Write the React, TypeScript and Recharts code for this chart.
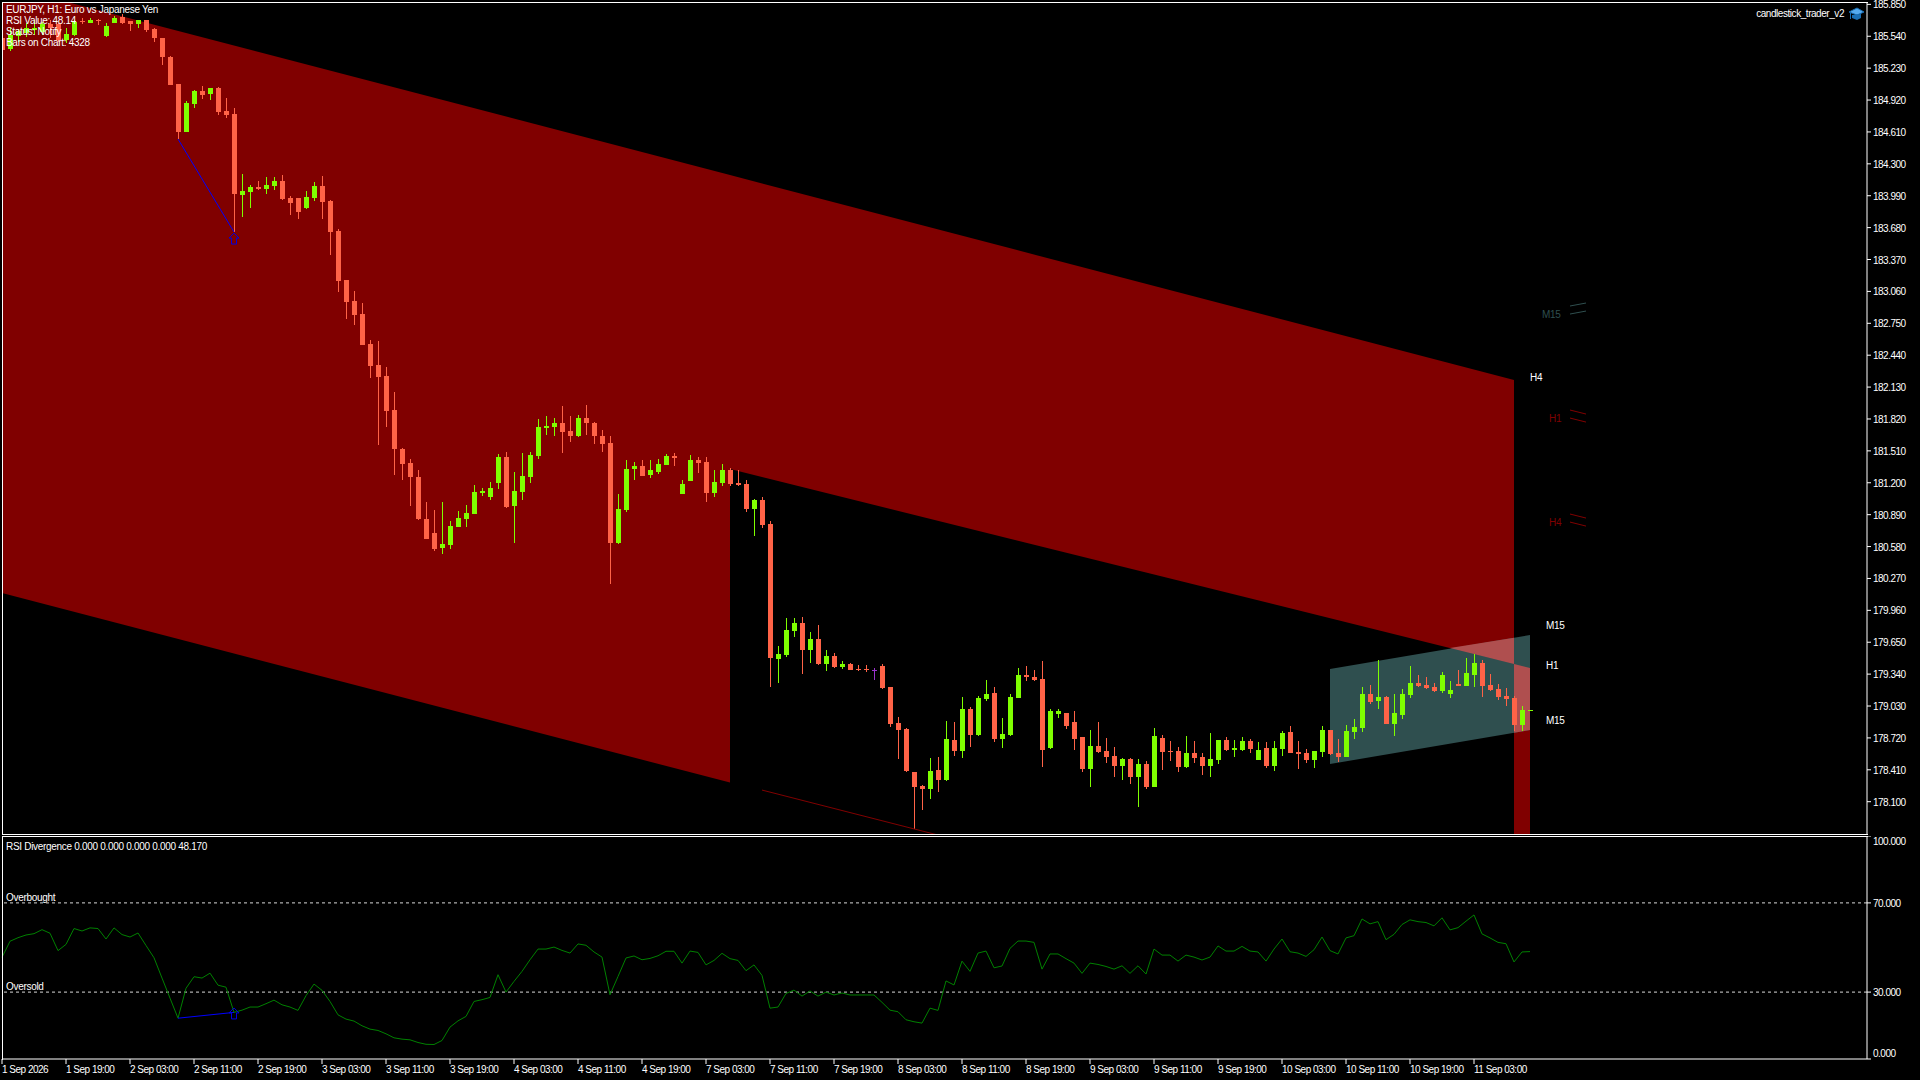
import React from 'react';
import { ComposedChart, Bar, Line, Area, XAxis, YAxis, ReferenceLine } from 'recharts';

const opens = [
  185.523,185.416,185.542,185.571,185.600,185.581,185.659,185.659,185.503,185.552,185.688,185.668,185.698,185.542,185.668,185.727,
  185.688,185.659,185.698,185.610,185.523,185.338,185.076,184.609,184.881,185.007,184.978,185.037,184.813,184.784,183.997,184.026,
  184.074,184.055,184.084,184.133,183.967,183.967,183.870,183.967,184.084,183.938,183.647,183.170,182.966,182.840,182.548,182.344,
  182.237,181.907,181.528,181.392,181.256,180.847,180.711,180.565,180.595,180.770,180.847,180.896,181.100,181.061,181.197,181.450,
  180.974,181.110,181.256,181.460,181.732,181.742,181.780,181.703,181.654,181.829,181.780,181.654,181.586,180.614,180.935,181.333,
  181.363,181.275,181.304,181.372,181.460,181.090,181.217,181.421,181.401,181.100,181.197,181.324,181.197,181.188,180.945,181.032,
  180.799,179.486,179.525,179.759,179.836,179.574,179.681,179.438,179.516,179.409,179.438,179.389,179.389,179.380,179.418,179.214,
  178.864,178.806,178.388,178.252,178.223,178.408,178.310,178.699,178.592,179.001,178.748,179.098,179.156,178.709,178.748,179.108,
  179.331,179.312,179.292,178.621,178.952,178.962,178.874,178.728,178.417,178.641,178.592,178.544,178.447,178.515,178.340,178.466,
  178.242,178.719,178.592,178.592,178.437,178.573,178.534,178.447,178.505,178.699,178.602,178.602,178.690,178.505,178.621,178.447,
  178.612,178.777,178.583,178.573,178.505,178.583,178.796,178.573,178.534,178.777,178.816,179.146,179.078,179.117,178.855,178.942,
  179.137,179.253,179.234,179.214,179.175,179.146,179.244,179.224,179.331,179.448,179.234,179.195,179.127,179.108,178.845,178.981,
];
const highs = [
  185.542,185.620,185.610,185.668,185.698,185.678,185.698,185.668,185.620,185.698,185.717,185.717,185.707,185.668,185.736,185.756,
  185.688,185.698,185.698,185.620,185.523,185.348,185.076,184.910,185.017,185.056,185.037,185.046,184.939,184.842,184.201,184.094,
  184.133,184.172,184.172,184.191,183.987,183.967,184.035,184.123,184.181,183.948,183.666,183.170,183.063,182.947,182.587,182.577,
  182.325,182.082,181.537,181.431,181.324,181.013,180.935,181.013,180.828,180.925,180.983,181.178,181.149,181.207,181.479,181.499,
  181.304,181.489,181.499,181.819,181.848,181.829,181.946,181.848,181.858,181.955,181.790,181.712,181.654,181.090,181.421,181.401,
  181.421,181.421,181.431,181.479,181.489,181.226,181.469,181.450,181.450,181.324,181.382,181.343,181.324,181.226,181.042,181.061,
  180.828,179.613,179.885,179.885,179.895,179.749,179.817,179.574,179.545,179.467,179.448,179.428,179.428,179.399,179.438,179.214,
  178.923,178.816,178.388,178.262,178.524,178.534,178.884,178.874,179.117,179.020,179.127,179.282,179.214,178.913,179.146,179.399,
  179.418,179.380,179.467,179.001,179.001,178.962,178.981,178.728,178.796,178.874,178.719,178.631,178.524,178.524,178.515,178.495,
  178.816,178.748,178.690,178.631,178.738,178.690,178.573,178.767,178.699,178.728,178.699,178.728,178.709,178.680,178.680,178.690,
  178.787,178.835,178.690,178.612,178.592,178.835,178.796,178.709,178.845,178.903,179.214,179.234,179.477,179.127,179.146,179.195,
  179.418,179.331,179.312,179.253,179.360,179.272,179.380,179.496,179.535,179.477,179.341,179.244,179.204,179.127,179.030,178.991,
];
const lows = [
  185.396,185.396,185.484,185.532,185.552,185.552,185.523,185.484,185.474,185.542,185.659,185.668,185.649,185.532,185.668,185.659,
  185.591,185.620,185.581,185.484,185.260,185.066,184.541,184.609,184.842,184.930,184.920,184.774,184.745,183.637,183.783,183.870,
  184.045,184.006,184.045,183.948,183.802,183.763,183.860,183.938,183.763,183.413,183.054,182.791,182.733,182.539,182.218,181.567,
  181.742,181.275,181.226,180.974,180.838,180.653,180.536,180.507,180.556,180.770,180.770,180.896,181.071,181.032,181.139,180.954,
  180.614,181.032,181.197,181.431,181.664,181.654,181.489,181.596,181.644,181.664,181.576,181.499,180.216,180.604,180.915,181.226,
  181.265,181.246,181.285,181.372,181.363,181.090,181.217,181.294,181.013,181.061,181.168,181.168,181.168,180.915,180.682,180.760,
  179.214,179.253,179.506,179.700,179.341,179.448,179.428,179.370,179.399,179.389,179.380,179.370,179.360,179.282,179.195,178.826,
  178.515,178.388,177.834,178.019,178.126,178.194,178.301,178.544,178.524,178.631,178.738,179.078,178.680,178.621,178.738,179.108,
  179.272,179.272,178.437,178.612,178.913,178.806,178.602,178.388,178.242,178.573,178.476,178.340,178.310,178.272,178.048,178.223,
  178.242,178.408,178.495,178.388,178.427,178.476,178.359,178.340,178.466,178.592,178.534,178.592,178.573,178.505,178.427,178.398,
  178.544,178.573,178.417,178.476,178.427,178.534,178.553,178.485,178.534,178.709,178.777,179.049,179.001,178.855,178.738,178.903,
  179.108,179.214,179.195,179.166,179.156,179.108,179.224,179.224,179.214,179.117,179.175,179.088,179.030,178.787,178.787,178.981,
];
const closes = [
  185.406,185.552,185.591,185.620,185.620,185.659,185.620,185.503,185.562,185.678,185.678,185.698,185.688,185.639,185.717,185.668,
  185.659,185.698,185.600,185.523,185.338,185.066,184.609,184.891,185.007,184.969,185.037,184.803,184.774,184.006,184.035,184.074,
  184.055,184.094,184.133,183.958,183.919,183.831,183.977,184.084,183.929,183.637,183.161,182.957,182.830,182.539,182.335,182.228,
  181.897,181.528,181.382,181.256,180.847,180.653,180.556,180.604,180.779,180.857,180.906,181.110,181.120,181.149,181.450,180.964,
  181.120,181.265,181.469,181.742,181.751,181.780,181.693,181.654,181.829,181.780,181.654,181.576,180.614,180.945,181.333,181.363,
  181.265,181.324,181.382,181.460,181.440,181.188,181.421,181.392,181.100,181.207,181.324,181.188,181.178,180.945,181.032,180.789,
  179.496,179.535,179.768,179.836,179.574,179.681,179.438,179.516,179.409,179.438,179.380,179.380,179.380,179.380,179.204,178.855,
  178.796,178.398,178.242,178.223,178.398,178.310,178.709,178.592,179.001,178.748,179.108,179.146,178.709,178.758,179.117,179.331,
  179.312,179.282,178.602,178.981,178.981,178.835,178.709,178.417,178.641,178.583,178.534,178.447,178.515,178.340,178.466,178.242,
  178.738,178.583,178.583,178.437,178.573,178.524,178.447,178.515,178.699,178.602,178.621,178.690,178.612,178.602,178.447,178.621,
  178.767,178.573,178.563,178.505,178.592,178.796,178.563,178.534,178.787,178.826,179.146,179.069,179.117,178.855,178.962,179.146,
  179.253,179.224,179.204,179.175,179.331,179.185,179.224,179.350,179.448,179.224,179.185,179.117,179.098,178.845,178.991,178.991,
];
const rsi = [
  45.6,52.8,54.4,55.6,56.2,58.0,56.4,48.6,51.4,58.5,57.4,58.8,58.5,53.8,58.8,55.8,
  54.7,56.5,50.9,45.4,36.3,27.3,18.3,31.7,36.9,36.3,38.5,33.1,32.2,20.9,21.9,23.3,
  23.3,24.8,26.4,24.3,23.3,21.8,28.4,33.6,30.8,25.8,19.8,17.9,17.0,14.9,13.4,12.8,
  11.3,9.5,8.9,8.6,7.4,6.6,6.5,8.3,14.3,17.1,19.1,25.8,26.6,27.6,37.8,30.0,
  34.8,39.3,44.5,49.3,49.3,50.2,48.7,47.5,51.6,51.0,48.0,45.7,28.8,37.0,45.3,46.2,
  44.5,45.1,46.3,48.3,48.3,43.0,48.4,47.8,42.2,44.2,47.4,45.0,44.2,39.6,42.2,37.5,
  22.8,23.3,29.4,30.9,28.2,30.5,28.2,30.0,28.7,29.6,28.7,28.7,28.7,28.7,25.4,21.9,
  21.2,17.6,16.7,16.1,22.8,21.8,35.0,33.2,43.9,39.3,47.5,48.4,40.9,41.7,49.6,52.9,
  52.9,52.3,40.3,47.1,47.1,45.0,43.0,38.4,43.0,42.4,41.5,40.3,41.8,38.4,41.8,38.1,
  49.3,46.6,46.6,43.9,46.6,45.7,44.4,45.7,50.7,48.4,48.4,50.5,48.4,48.0,43.9,49.3,
  53.8,48.1,47.5,46.0,49.0,54.7,48.6,47.1,54.3,55.3,62.8,60.6,61.6,53.5,55.9,60.3,
  62.4,61.6,61.2,59.7,63.3,57.9,58.9,61.8,64.6,56.1,54.3,52.3,51.7,43.5,48.0,48.17,
];
const priceTicks = [
  185.85,185.54,185.23,184.92,184.61,184.30,183.99,183.68,183.37,183.06,182.75,182.44,182.13,
  181.82,181.51,181.20,180.89,180.58,180.27,179.96,179.65,179.34,179.03,178.72,178.41,178.10,
];
const rsiTicks = [0, 30, 70, 100];
const timeLabels = [
  '1 Sep 2026','1 Sep 19:00','2 Sep 03:00','2 Sep 11:00','2 Sep 19:00','3 Sep 03:00','3 Sep 11:00','3 Sep 19:00',
  '4 Sep 03:00','4 Sep 11:00','4 Sep 19:00','7 Sep 03:00','7 Sep 11:00','7 Sep 19:00','8 Sep 03:00','8 Sep 11:00',
  '8 Sep 19:00','9 Sep 03:00','9 Sep 11:00','9 Sep 19:00','10 Sep 03:00','10 Sep 11:00','10 Sep 19:00','11 Sep 03:00',
];
const timeTicks = timeLabels.map((_, i) => i * 8);

// channel corners: [bar, lower price, upper price]
const redLeft = [[0, 180.128, 186.038], [91, 178.286, 184.191]];
const redRight = [[91, 181.333, 184.191], [189, 179.438, 182.198]];
const redStrip = [[189, 177.786, 179.438], [191, 177.786, 179.399]];
const tealBox = [[166, 178.466, 179.389], [191, 178.796, 179.720]];
const overlapTop = [[181, 179.593, 179.593], [189, 179.438, 179.694]];
const overlapStrip = [[189, 178.770, 179.438], [191, 178.796, 179.399]];

// thin lines: [bar, price]
const redSliver = [[95, 178.213], [117, 177.776]];
const divergencePrice = [[22, 184.541], [29, 183.637]];
const divergenceRsi = [[22, 18.3], [29, 20.9]];
const stubs = [
  { color: '#2f4f4f', pts: [[196, 182.918], [198, 182.947]] },
  { color: '#2f4f4f', pts: [[196, 182.840], [198, 182.869]] },
  { color: '#800000', pts: [[196, 181.907], [198, 181.868]] },
  { color: '#800000', pts: [[196, 181.829], [198, 181.790]] },
  { color: '#800000', pts: [[196, 180.896], [198, 180.857]] },
  { color: '#800000', pts: [[196, 180.818], [198, 180.779]] },
];

const candles = opens.map((open, k) => ({ k, open, high: highs[k], low: lows[k], close: closes[k], rsi: rsi[k] }));
const band = (rows: number[][]) => rows.map(([k, lo, hi]) => ({ k, range: [lo, hi] }));
const seg = (rows: number[][]) => rows.map(([k, v]) => ({ k, v }));

const FONT = '"Liberation Sans", Arial, sans-serif';
const xDomain: [number, number] = [0, 233.125];
const BULL = '#7fff00';
const BEAR = '#ff6347';
const DOJI = '#9932cc';

const Candle = (props: any) => {
  const { x, y, width, height, payload } = props;
  const { open, high, low, close } = payload;
  const perPrice = height / (high - low);
  const cx = Math.round(x + width / 2);
  const top = Math.round(y + (high - Math.max(open, close)) * perPrice);
  const bottom = Math.round(y + (high - Math.min(open, close)) * perPrice);
  const color = open === close ? DOJI : close > open ? BULL : BEAR;
  return (
    <g shapeRendering="crispEdges">
      <rect x={cx} y={Math.round(y)} width={1} height={Math.max(1, Math.round(height))} fill={color} />
      <rect x={cx - 2} y={top} width={5} height={Math.max(1, bottom - top)} fill={color} />
    </g>
  );
};

const ArrowMark = (props: any) => {
  const { cx, cy, index } = props;
  if (cx == null) return <g key={index} />;
  const d = `M${cx},${cy} L${cx + 5},${cy + 5} L${cx + 2.5},${cy + 5} L${cx + 2.5},${cy + 11} L${cx - 2.5},${cy + 11} L${cx - 2.5},${cy + 5} L${cx - 5},${cy + 5} Z`;
  return <path key={index} d={d} fill="none" stroke="#0000e0" strokeWidth={1} />;
};

const label = (x: number, y: number, text: string, fill = '#fff', anchor = 'start', spacing = -0.3) => (
  <text key={text + y} x={x} y={y} fill={fill} fontFamily={FONT} fontSize={10} letterSpacing={spacing} textAnchor={anchor}>{text}</text>
);

const PriceTick = ({ x, y, payload }: any) => (
  <text x={x} y={y + 4} fill="#fff" fontFamily={FONT} fontSize={10} letterSpacing={-0.5}>{payload.value.toFixed(3)}</text>
);
const RsiTick = ({ x, y, payload }: any) => {
  const shift = payload.value === 100 ? 9 : payload.value === 0 ? -2 : 4;
  return <text x={x} y={y + shift} fill="#fff" fontFamily={FONT} fontSize={10} letterSpacing={-0.5}>{payload.value.toFixed(3)}</text>;
};
const TimeTick = ({ x, y, payload, index }: any) => (
  <text x={x} y={y + 9} fill="#fff" fontFamily={FONT} fontSize={10} letterSpacing={-0.5}>{timeLabels[index ?? payload.index]}</text>
);

const redFill = (key: string, rows: number[][], fill: string) => (
  <Area key={key} data={band(rows)} dataKey="range" type="linear" stroke="none" fill={fill} fillOpacity={1} dot={false} activeDot={false} isAnimationActive={false} />
);

export default function App() {
  return (
    <div style={{ position: 'fixed', left: 0, top: 0, width: 1920, height: 1080, background: '#000', overflow: 'hidden' }}>
      <div style={{ position: 'absolute', left: 0, top: 0 }}>
        <ComposedChart width={1920} height={834} data={candles} margin={{ top: 2, right: 0, bottom: 0, left: 2 }}>
          <XAxis dataKey="k" type="number" scale="linear" domain={xDomain} hide allowDataOverflow />
          <YAxis orientation="right" width={53} type="number" domain={[177.786, 185.873]} ticks={priceTicks} interval={0}
            allowDataOverflow tick={<PriceTick />} tickSize={4} tickMargin={2}
            axisLine={{ stroke: '#fff' }} tickLine={{ stroke: '#fff' }} />
          {redFill('left', redLeft, '#800000')}
          {redFill('right', redRight, '#800000')}
          {redFill('strip', redStrip, '#800000')}
          {redFill('teal', tealBox, '#2f4f4f')}
          {redFill('ovTop', overlapTop, '#af4f4f')}
          {redFill('ovStrip', overlapStrip, '#af4f4f')}
          <Line data={seg(redSliver)} dataKey="v" stroke="#800000" strokeWidth={1} dot={false} activeDot={false} isAnimationActive={false} />
          {stubs.map((s, i) => (
            <Line key={i} data={seg(s.pts)} dataKey="v" stroke={s.color} strokeWidth={1} dot={false} activeDot={false} isAnimationActive={false} />
          ))}
          <Bar dataKey={(d: any) => [d.low, d.high]} barSize={5} shape={Candle} isAnimationActive={false} />
          <Line data={seg(divergencePrice)} dataKey="v" stroke="#0000ff" strokeWidth={1} dot={false} activeDot={false} isAnimationActive={false} />
          <Line data={seg([[29, 183.627]])} dataKey="v" stroke="none" dot={ArrowMark} activeDot={false} isAnimationActive={false} />
        </ComposedChart>
        <div style={{ position: 'absolute', left: 2, top: 2, width: 1865, height: 831, borderLeft: '1px solid #fff', borderTop: '1px solid #fff', borderBottom: '1px solid #fff', pointerEvents: 'none' }} />
      </div>
      <div style={{ position: 'absolute', left: 0, top: 836 }}>
        <ComposedChart width={1920} height={244} data={candles} margin={{ top: 0, right: 0, bottom: 0, left: 2 }}>
          <XAxis dataKey="k" type="number" scale="linear" domain={xDomain} ticks={timeTicks} interval={0} height={21}
            tick={<TimeTick />} tickSize={5} tickMargin={0} axisLine={{ stroke: '#fff' }} tickLine={{ stroke: '#fff' }} />
          <YAxis orientation="right" width={53} type="number" domain={[0, 100]} ticks={rsiTicks} interval={0}
            tick={<RsiTick />} tickSize={4} tickMargin={2} axisLine={{ stroke: '#fff' }} tickLine={{ stroke: '#fff' }} />
          <ReferenceLine y={70} stroke="#d8d8d8" strokeDasharray="3 3" />
          <ReferenceLine y={30} stroke="#d8d8d8" strokeDasharray="3 3" />
          <Line dataKey="rsi" type="linear" stroke="#008000" strokeWidth={1} dot={false} activeDot={false} isAnimationActive={false} />
          <Line data={seg(divergenceRsi)} dataKey="v" stroke="#0000ff" strokeWidth={1} dot={false} activeDot={false} isAnimationActive={false} />
          <Line data={seg([[29, 22.9]])} dataKey="v" stroke="none" dot={ArrowMark} activeDot={false} isAnimationActive={false} />
        </ComposedChart>
        <div style={{ position: 'absolute', left: 2, top: 0, width: 1865, height: 223, borderLeft: '1px solid #fff', borderTop: '1px solid #fff', pointerEvents: 'none' }} />
      </div>
      <svg width={1920} height={1080} style={{ position: 'absolute', left: 0, top: 0, pointerEvents: 'none' }}>
        {label(6, 13, 'EURJPY, H1:  Euro vs Japanese Yen')}
        {label(6, 24, 'RSI Value: 48.14')}
        {label(6, 35, 'Status: Notify')}
        {label(6, 46, 'Bars on Chart: 4328')}
        {label(1844, 17, 'candlestick_trader_v2', '#fff', 'end', -0.45)}
        <path d="M1849,12 L1857,8 L1864,12 L1857,15 Z" fill="#55aaee" stroke="#1a6fb5" />
        <path d="M1852,15 L1852,18 L1857,20 L1861,18 L1861,14" fill="#1a6fb5" />
        <rect x={1850} y={13} width={1} height={6} fill="#1a6fb5" />
        {label(1530, 381, 'H4')}
        {label(1542, 318, 'M15', '#2f4f4f')}
        {label(1549, 422, 'H1', '#800000')}
        {label(1549, 526, 'H4', '#800000')}
        {label(1546, 629, 'M15')}
        {label(1546, 669, 'H1')}
        {label(1546, 724, 'M15')}
        {label(6, 850, 'RSI Divergence 0.000 0.000 0.000 0.000 48.170')}
        {label(6, 901, 'Overbought')}
        {label(6, 990, 'Oversold')}
      </svg>
    </div>
  );
}
